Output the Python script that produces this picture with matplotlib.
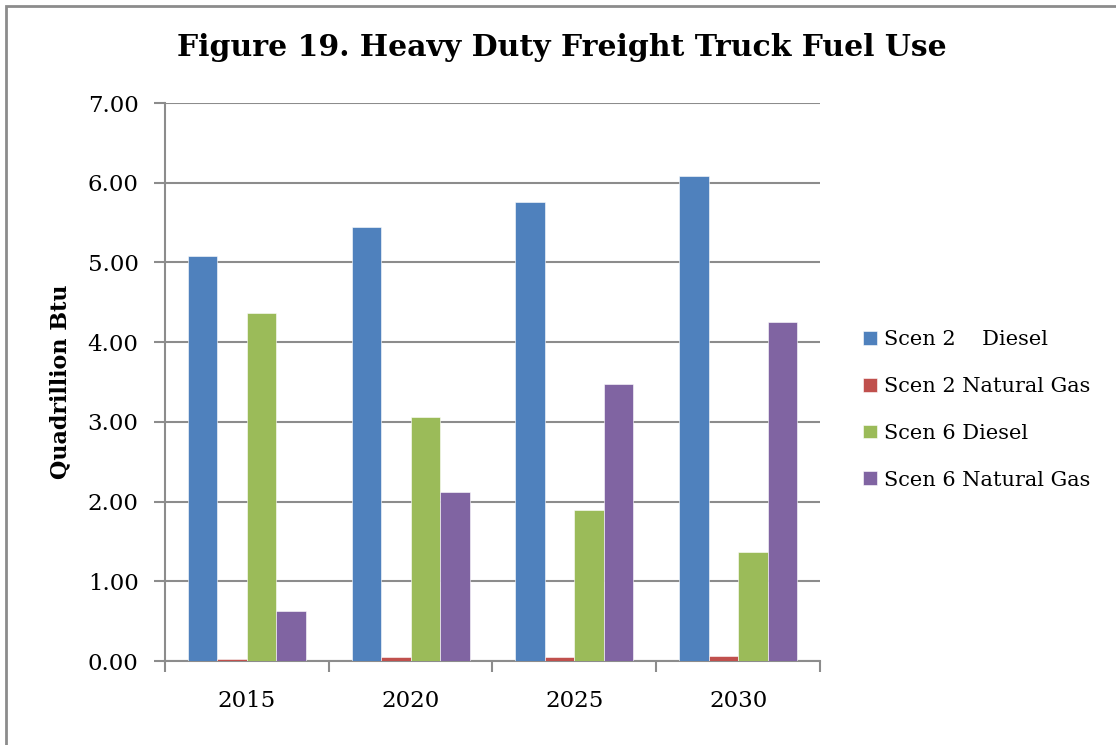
import numpy as np
import matplotlib
matplotlib.use("Agg")
import matplotlib.pyplot as plt
from matplotlib.patches import Rectangle

# --- data ---
years = ["2015", "2020", "2025", "2030"]
series_names = ["Scen 2    Diesel", "Scen 2 Natural Gas", "Scen 6 Diesel", "Scen 6 Natural Gas"]
scen2_diesel = [5.08, 5.45, 5.76, 6.08]
scen2_natgas = [0.03, 0.05, 0.055, 0.065]
scen6_diesel = [4.37, 3.06, 1.90, 1.37]
scen6_natgas = [0.63, 2.12, 3.47, 4.25]
y_ticks = [0, 1, 2, 3, 4, 5, 6, 7]

colors = ["#4F81BD", "#C0504D", "#9BBB59", "#8064A2"]
grid_col = "#8c8c8c"

plt.rcParams["font.family"] = ["DejaVu Serif"]

fig = plt.figure(figsize=(11.16, 7.45), dpi=100)
ax = fig.add_axes([165 / 1116, 1 - 661 / 745, (820 - 165) / 1116, (661 - 103) / 745])

# chart frame (only top and left edges visible in reference crop)
fig.patches.append(Rectangle((6 / 1116, -0.01), 1.1, 1 - 6 / 745 + 0.01,
                             transform=fig.transFigure, fill=False,
                             edgecolor=grid_col, linewidth=2))

x = np.arange(len(years)) + 0.5
width = 0.18
all_series = [scen2_diesel, scen2_natgas, scen6_diesel, scen6_natgas]
for i, vals in enumerate(all_series):
    ax.bar(x + (i - 1.5) * width, vals, width, color=colors[i],
           edgecolor="white", linewidth=0.4, label=series_names[i], zorder=3)

ax.set_xlim(0, len(years))
ax.set_ylim(0, 7)
ax.set_yticks(y_ticks)
ax.set_yticklabels([f"{v:.2f}" for v in y_ticks])
ax.yaxis.grid(True, color=grid_col, linewidth=1.5, zorder=0)

# category boundaries get the tick marks, labels sit at centers
ax.set_xticks(np.arange(len(years) + 1))
ax.set_xticklabels([])
ax.set_xticks(x, minor=True)
ax.set_xticklabels(years, minor=True)
ax.tick_params(axis="x", which="major", length=8, width=1.5, color=grid_col)
ax.tick_params(axis="x", which="minor", length=0, pad=21, labelsize=16.5)
ax.tick_params(axis="y", length=8, width=1.5, color=grid_col, pad=11, labelsize=16.5)

for s in ["top", "right"]:
    ax.spines[s].set_visible(False)
for s in ["left", "bottom"]:
    ax.spines[s].set_color(grid_col)
    ax.spines[s].set_linewidth(1.5)

ax.set_ylabel("Quadrillion Btu", fontsize=16, fontweight="bold", labelpad=12)

fig.text(562 / 1116, 1 - 48 / 745, "Figure 19. Heavy Duty Freight Truck Fuel Use",
         ha="center", va="center", fontsize=21.5, fontweight="bold")

fig.legend(loc="center left", bbox_to_anchor=(855 / 1116, 1 - 410 / 745),
           frameon=False, fontsize=15, handlelength=0.65, handleheight=0.65,
           handletextpad=0.35, labelspacing=1.33, borderaxespad=0)

fig.savefig("out.png", dpi=100)
